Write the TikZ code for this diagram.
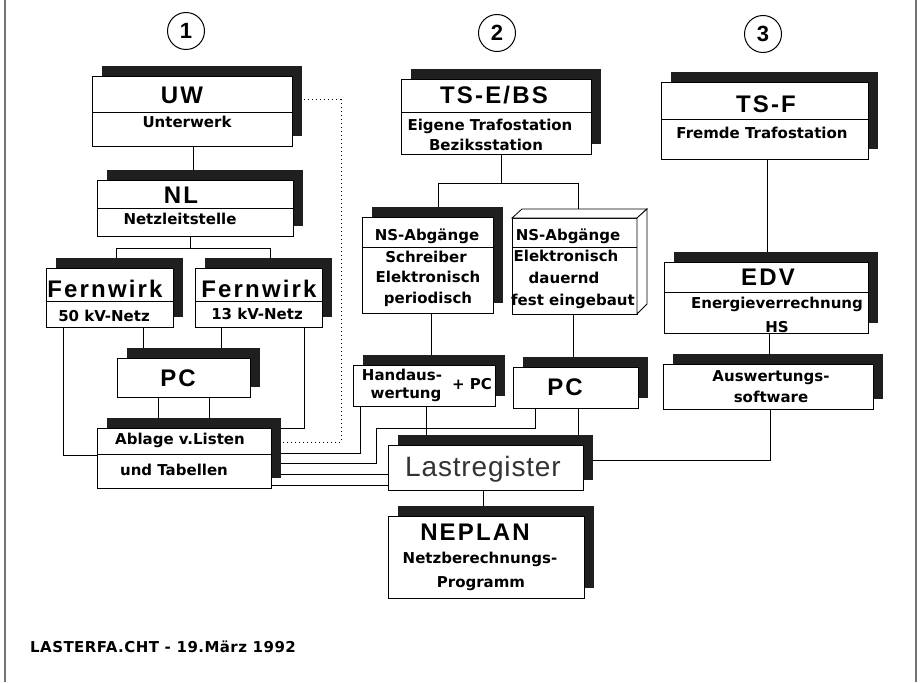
\documentclass[tikz,border=0pt]{standalone}
\usepackage{fontspec}
\setmainfont{Liberation Sans}
\newfontfamily\tfont[LetterSpace=9]{Liberation Sans}
\newfontfamily\sfont{DejaVu Sans}
\newfontfamily\ffont[LetterSpace=3]{DejaVu Sans}
\newfontfamily\lfont[LetterSpace=3]{Liberation Sans}
\usetikzlibrary{shadows,backgrounds}
\tikzset{
  box/.style={draw, line width=0.8pt, fill=white, inner sep=0pt, outer sep=0pt},
  sbox/.style={box, drop shadow={shadow xshift=10pt, shadow yshift=10pt, fill=black!88, opacity=1}},
  ttl/.style={anchor=base, inner sep=0pt, font=\tfont\bfseries\fontsize{24}{28}\selectfont},
  sub/.style={anchor=base, inner sep=0pt, font=\sfont\bfseries\fontsize{15}{17}\selectfont},
  foot/.style={anchor=base west, inner sep=0pt, font=\ffont\bfseries\fontsize{15}{17}\selectfont},
  lst/.style={anchor=base, inner sep=0pt, text=black!80, font=\lfont\fontsize{28}{32}\selectfont},
  conn/.style={line width=0.8pt},
  dots/.style={line width=1pt, dash pattern=on 1pt off 3pt},
  divl/.style={line width=0.8pt},
  num/.style={circle, draw, line width=1pt, minimum size=37pt, inner sep=0pt, font=\bfseries\fontsize{22}{24}\selectfont},
  frameline/.style={line width=1.3pt, draw=black!55}
}
\newcommand\mkbox[6]{\node[#1, minimum width={(#5-#3)*1pt}, minimum height={(#6-#4)*1pt}] (#2) at ({(#3+#5)/2},{(#4+#6)/2}) {};}
\newcommand\mkdiv[2]{\draw[divl] (#1.west |- 0,#2) -- (#1.east |- 0,#2);}
\begin{document}
\begin{tikzpicture}[x=1pt,y=-1pt]
\useasboundingbox (0,0) rectangle (920,682);
\draw[frameline] (5,0) -- (5,682);
\draw[frameline] (916,0) -- (916,682);

% numbers
\node[num] (c1) at (186,31) {1};
\node[num] (c2) at (497,33) {2};
\node[num] (c3) at (763,34) {3};

% column 1
\mkbox{sbox}{uw}{92}{76}{292}{146}
\mkdiv{uw}{112}
\node[ttl] (uwt) at (182,103) {UW};
\node[sub] (uws) at (187,128) {Unterwerk};

\mkbox{sbox}{nl}{97}{180}{293}{236}
\mkdiv{nl}{208}
\node[ttl] (nlt) at (181,203) {NL};
\node[sub] (nls) at (180,224) {Netzleitstelle};

\mkbox{sbox}{fw1}{46}{268}{173}{327}
\mkdiv{fw1}{301}
\node[ttl] (fw1t) at (105,297) {Fernwirk};
\node[sub] (fw1s) at (104,321) {50 kV-Netz};

\mkbox{sbox}{fw2}{195}{268}{322}{327}
\mkdiv{fw2}{301}
\node[ttl] (fw2t) at (259,297) {Fernwirk};
\node[sub] (fw2s) at (257,319) {13 kV-Netz};

\mkbox{sbox}{pc1}{117}{358}{250}{397}
\node[ttl] (pc1t) at (178,386) {PC};

\mkbox{sbox}{abl}{97}{428}{271}{488}
\mkdiv{abl}{454}
\node[sub] (abl1) at (180,444) {Ablage v.Listen};
\node[sub] (abl2) at (174,475) {und Tabellen};

% column 2
\mkbox{sbox}{tse}{401}{79}{591}{154}
\mkdiv{tse}{112}
\node[ttl] (tset) at (494,103) {TS-E/BS};
\node[sub] (tses1) at (490,131) {Eigene Trafostation};
\node[sub] (tses2) at (486,150) {Beziksstation};

\mkbox{sbox}{ns1}{362}{217}{493}{313}
\mkdiv{ns1}{247}
\node[sub] (ns1a) at (427,240) {NS-Abgänge};
\node[sub] (ns1b) at (426,262) {Schreiber};
\node[sub] (ns1c) at (428,282) {Elektronisch};
\node[sub] (ns1d) at (428,303) {periodisch};

\mkbox{box}{ns2}{512}{218}{637}{314}
\draw[box] (ns2.north west) -- ++(10,-9) -- ++(125,0) -- (ns2.north east) -- cycle;
\draw[box] (ns2.north east) -- ++(10,-9) -- ++(0,95) -- (ns2.south east) -- cycle;
\mkdiv{ns2}{247}
\node[sub] (ns2a) at (568,240) {NS-Abgänge};
\node[sub] (ns2b) at (566,261) {Elektronisch};
\node[sub] (ns2c) at (564,283) {dauernd};
\node[sub] (ns2d) at (573,305) {fest eingebaut};

\mkbox{sbox}{hand}{353}{365}{495}{406}
\node[sub] (hand1) at (402,380) {Handaus-};
\node[sub] (hand2) at (406,398) {wertung};
\node[sub] (hand3) at (472,389) {+ PC};

\mkbox{sbox}{pc2}{513}{367}{638}{408}
\node[ttl] (pc2t) at (565,395) {PC};

\mkbox{sbox}{lr}{388}{445}{583}{490}
\node[lst] (lrt) at (483,476) {Lastregister};

\mkbox{sbox}{nep}{388}{516}{584}{598}
\node[ttl] (nept) at (475,540) {NEPLAN};
\node[sub] (neps1) at (480,563) {Netzberechnungs-};
\node[sub] (neps2) at (481,587) {Programm};

% column 3
\mkbox{sbox}{tsf}{661}{82}{868}{159}
\mkdiv{tsf}{119}
\node[ttl] (tsft) at (766,113) {TS-F};
\node[sub] (tsfs) at (762,138) {Fremde Trafostation};

\mkbox{sbox}{edv}{664}{262}{868}{333}
\mkdiv{edv}{292}
\node[ttl] (edvt) at (768,285) {EDV};
\node[sub] (edvs1) at (777,308) {Energieverrechnung};
\node[sub] (edvs2) at (777,332) {HS};

\mkbox{sbox}{aus}{663}{364}{873}{409}
\node[sub] (aus1) at (771,381) {Auswertungs-};
\node[sub] (aus2) at (771,402) {software};

% footer
\node[foot] (ft) at (30,652) {LASTERFA.CHT - 19.März 1992};

\begin{pgfonlayer}{background}
\draw[conn] (193,0 |- uw.south) -- (193,0 |- nl.north);
\draw[conn] (190,0 |- nl.south) -- (190,248);
\draw[conn] (116,0 |- fw1.north) -- (116,248) -- (270,248) -- (270,0 |- fw2.north);
\draw[conn] (143,0 |- fw1.south) -- (143,0 |- pc1.north);
\draw[conn] (221,0 |- fw2.south) -- (221,0 |- pc1.north);
\draw[conn] (158,0 |- pc1.south) -- (158,0 |- abl.north);
\draw[conn] (209,0 |- pc1.south) -- (209,0 |- abl.north);
\draw[conn] (63,0 |- fw1.south) |- (abl.west |- 0,455);
\draw[conn] (304,0 |- fw2.south) |- (abl.east |- 0,428);
\draw[dots] (uw.east |- 0,100) -| (341,442) -- (abl.east |- 0,442);
\draw[conn] (501,0 |- tse.south) -- (501,183);
\draw[conn] (438,0 |- ns1.north) -- (438,183) -- (578,183) -- (578,0 |- ns2.north);
\draw[conn] (431,0 |- ns1.south) -- (431,0 |- hand.north);
\draw[conn] (573,0 |- ns2.south) -- (573,0 |- pc2.north);
\draw[conn] (426,0 |- hand.south) -- (426,0 |- lr.north);
\draw[conn] (578,0 |- pc2.south) -- (578,0 |- lr.north);
\draw[conn] (360,0 |- hand.south) |- (abl.east |- 0,453);
\draw[conn] (535,0 |- pc2.south) -- (535,428) -- (376,428) -- (376,463) -- (abl.east |- 0,463);
\draw[conn] (abl.east |- 0,474) -- (lr.west |- 0,474);
\draw[conn] (abl.east |- 0,485) -- (lr.west |- 0,485);
\draw[conn] (483,0 |- lr.south) -- (483,0 |- nep.north);
\draw[conn] (767,0 |- tsf.south) -- (767,0 |- edv.north);
\draw[conn] (769,0 |- edv.south) -- (769,0 |- aus.north);
\draw[conn] (770,0 |- aus.south) |- (lr.east |- 0,460);
\end{pgfonlayer}
\end{tikzpicture}
\end{document}
